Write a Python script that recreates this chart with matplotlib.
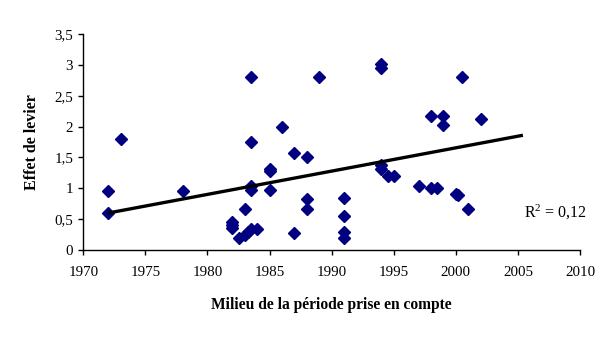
import matplotlib
matplotlib.use("Agg")
import matplotlib.pyplot as plt
from matplotlib.ticker import FuncFormatter
import numpy as np

plt.rcParams['font.family'] = ['Liberation Serif', 'DejaVu Serif']
plt.rcParams['mathtext.fontset'] = 'custom'
plt.rcParams['mathtext.rm'] = 'Liberation Serif'
plt.rcParams['mathtext.it'] = 'Liberation Serif'

years = [1972, 1972, 1973, 1978, 1982, 1982, 1982, 1982.5, 1983, 1983.3, 1983,
         1983.5, 1983.5, 1983.5, 1983.5, 1983.5, 1984, 1985, 1985, 1985, 1986,
         1987, 1987, 1988, 1988, 1988, 1989, 1991, 1991, 1991, 1991,
         1994, 1994, 1994, 1994, 1994.5, 1995, 1997, 1998, 1998, 1998.5,
         1999, 1999, 2000, 2000.2, 2000.5, 2001, 2002]
levier = [0.96, 0.60, 1.80, 0.95, 0.46, 0.41, 0.35, 0.19, 0.25, 0.30, 0.66,
          2.80, 1.75, 1.03, 0.98, 0.34, 0.34, 1.31, 1.28, 0.98, 2.00,
          1.57, 0.28, 1.50, 0.82, 0.66, 2.80, 0.84, 0.55, 0.30, 0.19,
          3.01, 2.95, 1.38, 1.31, 1.20, 1.20, 1.03, 2.17, 1.00, 1.00,
          2.18, 2.02, 0.91, 0.89, 2.80, 0.66, 2.12]
# linear trendline as drawn in the chart
trend_years = [1972, 2005.4]
trend_values = [0.60, 1.86]
r2_label = "R$^{2}$ = 0,12"
xlabel = "Milieu de la période prise en compte"
ylabel = "Effet de levier"

fig = plt.figure(figsize=(6.16, 3.37), dpi=100)
ax = fig.add_axes([0.1352, 0.258, 0.8064, 0.641])

ax.plot(years, levier, linestyle='none', marker='D', markersize=5.8,
        color='#000080', markeredgecolor='#000080')

ax.plot(trend_years, trend_values, color='black', linewidth=2.4,
        solid_capstyle='butt')

ax.set_xlim(1970, 2010)
ax.set_ylim(0, 3.5)
ax.set_xticks(np.arange(1970, 2011, 5))
ax.set_yticks(np.arange(0, 3.51, 0.5))
ax.yaxis.set_major_formatter(FuncFormatter(lambda v, p: ('%g' % v).replace('.', ',')))

for s in ['top', 'right']:
    ax.spines[s].set_visible(False)
for s in ['left', 'bottom']:
    ax.spines[s].set_linewidth(1.0)
ax.tick_params(direction='out', length=3.8, width=1, labelsize=10.8, colors='black')
ax.tick_params(axis='x', pad=8)

ax.set_xlabel(xlabel, fontsize=11.2, fontweight='bold', labelpad=13)
ax.set_ylabel(ylabel, fontsize=11.5, fontweight='bold', labelpad=10)

ax.text(1.014, 0.173, r2_label, transform=ax.transAxes, ha='right', va='center',
        fontsize=11.5)

fig.savefig("out.png", dpi=100)
